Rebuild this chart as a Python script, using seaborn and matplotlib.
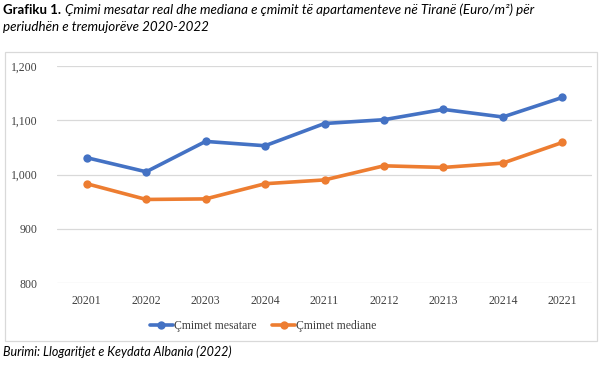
import numpy as np
import pandas as pd
import matplotlib
matplotlib.use("Agg")
import matplotlib.pyplot as plt
import seaborn as sns
from matplotlib.patches import Rectangle

# Të dhënat (lexuar nga grafiku)
periudhat = ["20201", "20202", "20203", "20204", "20211",
             "20212", "20213", "20214", "20221"]
mesatare = [1031, 1005, 1061, 1053, 1094, 1101, 1120, 1106, 1142]
mediane = [983, 954, 955, 983, 990, 1016, 1013, 1021, 1059]
seri = ["Çmimet mesatare", "Çmimet mediane"]
ngjyrat = ["#4472C4", "#ED7D31"]

df = pd.DataFrame({
    "periudha": periudhat * 2,
    "cmimi": mesatare + mediane,
    "seria": [seri[0]] * len(periudhat) + [seri[1]] * len(periudhat),
})

sns.set_theme(style="white")
plt.rcParams["font.family"] = ["Liberation Serif", "DejaVu Serif"]

fig = plt.figure(figsize=(6.10, 3.69), dpi=100)
ax = fig.add_axes([57 / 610, 1 - 283 / 369, 535 / 610, 217 / 369])

sns.lineplot(data=df, x="periudha", y="cmimi", hue="seria", palette=ngjyrat,
             marker="o", markersize=6, markeredgewidth=0, linewidth=2.6,
             sort=False, ax=ax)

ax.set_xlim(-0.5, len(periudhat) - 0.5)
ax.set_ylim(800, 1200)
ax.set_yticks([800, 900, 1000, 1100, 1200])
ax.set_yticklabels(["800", "900", "1,000", "1,100", "1,200"])
ax.yaxis.grid(True, color="#D9D9D9", linewidth=0.9)
ax.set_axisbelow(True)
for s in ax.spines.values():
    s.set_visible(False)
ax.tick_params(axis="both", length=0, labelsize=8.5, colors="#404040", pad=9)
ax.tick_params(axis="y", pad=14)
ax.set_xlabel("")
ax.set_ylabel("")

leg = ax.legend(loc="upper center", bbox_to_anchor=(0.385, -0.12), ncol=2,
                frameon=False, fontsize=8.5, handlelength=2.0,
                columnspacing=1.3, handletextpad=0.05)
for t in leg.get_texts():
    t.set_color("#404040")

# kuadri i grafikut
fig.patches.append(Rectangle((5 / 610, 1 - 341 / 369), 592 / 610, 289 / 369,
                             transform=fig.transFigure, fill=False,
                             edgecolor="#D9D9D9", linewidth=0.9))

# titulli
tf = ["Lato", "DejaVu Sans"]
t1 = fig.text(3 / 610, 1 - 10 / 369, "Grafiku 1.", fontsize=9.5,
              fontweight="bold", family=tf, va="center", color="black")
fig.canvas.draw()
bb = t1.get_window_extent()
fig.text(bb.x1 / 610 + 4 / 610, 1 - 10 / 369,
         "Çmimi mesatar real dhe mediana e çmimit të apartamenteve në Tiranë (Euro/m²) për",
         fontsize=9.6, style="italic", family=tf, va="center", color="black")
fig.text(3 / 610, 1 - 27 / 369, "periudhën e tremujorëve 2020-2022",
         fontsize=9.6, style="italic", family=tf, va="center", color="black")

fig.text(3 / 610, 1 - 352 / 369, "Burimi: Llogaritjet e Keydata Albania (2022)",
         fontsize=9, style="italic", family=tf, va="center", color="black")

plt.savefig("out.png", dpi=100)
